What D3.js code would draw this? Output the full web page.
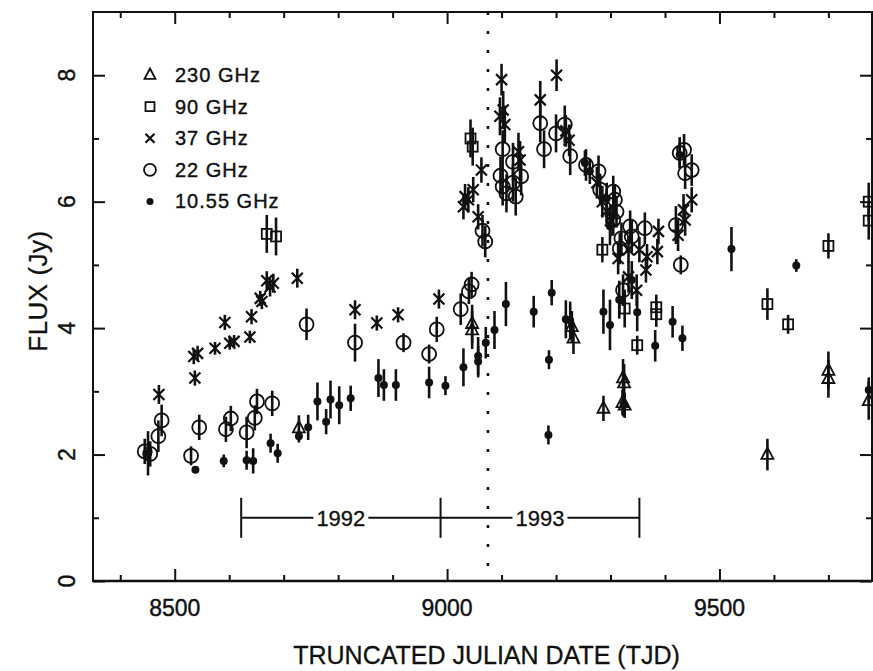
<!DOCTYPE html>
<html><head><meta charset="utf-8">
<script src="https://cdn.jsdelivr.net/npm/d3@7"></script>
<style>body{margin:0;background:#fff}svg{display:block}</style>
</head><body><svg id="c" width="873" height="671"></svg>
<script>
// ---- data ----
const tjd230  = [8728, 9046, 9046, 9229, 9232, 9287, 9323, 9325, 9322, 9326, 9588, 9700, 9700, 9774];
const flux230 = [2.42, 4.07, 3.97, 4.02, 3.84, 2.73, 3.21, 3.13, 2.82, 2.78, 2.00, 3.33, 3.20, 2.85];
const err230  = [0.20, 0.30, 0.30, 0.25, 0.25, 0.20, 0.30, 0.30, 0.20, 0.20, 0.25, 0.30, 0.30, 0.30];

const tjd90  = [8669, 8686, 9043, 9047, 9285, 9326, 9349, 9384, 9384, 9588, 9626, 9700, 9774, 9774];
const flux90 = [5.49, 5.45, 7.00, 6.87, 5.24, 4.31, 3.73, 4.33, 4.22, 4.38, 4.06, 5.30, 6.00, 5.70];
const err90  = [0.30, 0.30, 0.30, 0.30, 0.20, 0.30, 0.15, 0.20, 0.20, 0.25, 0.15, 0.20, 0.30, 0.30];

const tjd37  = [8471, 8535, 8542, 8537, 8574, 8592, 8601, 8609, 8638, 8641, 8657, 8660, 8669, 8675, 8681, 8725,
                8831, 8871, 8910, 8985, 9030, 9033, 9039, 9048, 9057, 9063, 9097, 9100, 9103, 9106, 9131, 9134,
                9171, 9201, 9218, 9224, 9275, 9285, 9293, 9300, 9314, 9333, 9333, 9348, 9353, 9365, 9367, 9386,
                9388, 9424, 9434, 9437, 9449];
const flux37 = [2.95, 3.55, 3.60, 3.21, 3.68, 4.09, 3.76, 3.79, 3.86, 4.18, 4.47, 4.42, 4.75, 4.65, 4.71, 4.79,
                4.29, 4.08, 4.21, 4.46, 5.92, 6.08, 6.03, 6.19, 5.76, 6.50, 7.35, 7.93, 7.45, 7.22, 6.79, 6.66,
                7.61, 8.00, 7.12, 6.97, 6.30, 6.00, 5.85, 5.70, 5.10, 5.24, 4.81, 4.60, 5.24, 4.92, 5.13, 5.21,
                5.53, 5.47, 5.87, 5.71, 6.03];
const err37  = [0.15, 0.12, 0.12, 0.12, 0.10, 0.12, 0.10, 0.10, 0.10, 0.12, 0.12, 0.12, 0.15, 0.15, 0.15, 0.15,
                0.15, 0.12, 0.12, 0.15, 0.20, 0.20, 0.20, 0.20, 0.20, 0.20, 0.30, 0.25, 0.30, 0.30, 0.30, 0.30,
                0.30, 0.25, 0.25, 0.25, 0.25, 0.25, 0.25, 0.25, 0.25, 0.20, 0.25, 0.25, 0.20, 0.20, 0.20, 0.20,
                0.20, 0.25, 0.25, 0.25, 0.20];

const tjd22  = [8445, 8455, 8470, 8476, 8530, 8545, 8594, 8603, 8632, 8647, 8651, 8679, 8742, 8831, 8920, 8967,
                8981, 9025, 9040, 9045, 9065, 9070, 9098, 9102, 9102, 9109, 9121, 9121, 9126, 9136, 9171, 9178,
                9200, 9216, 9226, 9255, 9278, 9281, 9305, 9308, 9311, 9305, 9317, 9320, 9323, 9336, 9339, 9363,
                9420, 9427, 9435, 9437, 9449, 9429];
const flux22 = [2.05, 2.01, 2.29, 2.54, 1.98, 2.43, 2.40, 2.57, 2.35, 2.58, 2.84, 2.81, 4.06, 3.77, 3.77, 3.59,
                3.98, 4.30, 4.58, 4.69, 5.54, 5.37, 6.41, 6.83, 6.24, 6.13, 6.63, 6.30, 6.08, 6.40, 7.24, 6.83,
                7.08, 7.22, 6.72, 6.58, 6.48, 6.19, 6.16, 6.03, 5.84, 5.71, 5.26, 5.42, 4.60, 5.61, 5.45, 5.58,
                5.63, 6.77, 6.82, 6.45, 6.50, 5.00];
const err22  = [0.20, 0.20, 0.25, 0.25, 0.15, 0.20, 0.20, 0.20, 0.25, 0.20, 0.20, 0.20, 0.25, 0.30, 0.15, 0.15,
                0.20, 0.25, 0.20, 0.20, 0.25, 0.25, 0.30, 0.30, 0.30, 0.30, 0.30, 0.30, 0.30, 0.30, 0.30, 0.30,
                0.30, 0.30, 0.30, 0.25, 0.25, 0.25, 0.25, 0.25, 0.25, 0.25, 0.25, 0.25, 0.25, 0.25, 0.25, 0.25,
                0.30, 0.25, 0.25, 0.25, 0.25, 0.15];

const tjd10  = [8451, 8538, 8590, 8632, 8644, 8676, 8689, 8728, 8745, 8762, 8778, 8786, 8802, 8823, 8874, 8884,
                8906, 8967, 8997, 9030, 9057, 9057, 9071, 9087, 9108, 9159, 9187, 9186, 9192, 9218, 9226, 9287,
                9299, 9316, 9349, 9382, 9414, 9432, 9522, 9641, 9774, 9253, 9262, 9293, 9299, 9427, 9339, 9324];
const flux10 = [2.02, 1.76, 1.90, 1.91, 1.90, 2.18, 2.02, 2.29, 2.43, 2.84, 2.52, 2.87, 2.78, 2.89, 3.21, 3.10,
                3.10, 3.14, 3.09, 3.38, 3.56, 3.47, 3.77, 3.97, 4.38, 4.26, 3.50, 2.31, 4.56, 4.14, 4.12, 4.26,
                4.05, 4.45, 4.25, 3.72, 4.10, 3.84, 5.25, 4.99, 3.02, 6.61, 6.48, 6.05, 5.61, 6.74, 4.76, 2.80];
const err10  = [0.35, 0.00, 0.10, 0.15, 0.20, 0.15, 0.15, 0.10, 0.20, 0.30, 0.20, 0.30, 0.30, 0.20, 0.30, 0.25,
                0.25, 0.25, 0.15, 0.30, 0.30, 0.25, 0.25, 0.30, 0.35, 0.25, 0.15, 0.15, 0.20, 0.30, 0.30, 0.35,
                0.40, 0.30, 0.30, 0.25, 0.25, 0.20, 0.35, 0.10, 0.20, 0.20, 0.20, 0.25, 0.30, 0.20, 0.30, 0.20];

const legendLabels = ["230 GHz", "90 GHz", "37 GHz", "22 GHz", "10.55 GHz"];
const xMajorTicks = [8500, 9000, 9500];
const xMinorTicks = [8400, 8600, 8700, 8800, 8900, 9100, 9200, 9300, 9400, 9600, 9700];
const yMajorTicks = [0, 2, 4, 6, 8];
const yMinorTicks = [1, 3, 5, 7];
const yearEdges = [8622, 8988, 9353];
const yearLabels = ["1992", "1993"];
const yearLevel = 1;
const markerTJD = 9075;

// ---- layout ----
const W = 873, H = 671;
const L = 93, R = 872, T = 12, B = 581;
const svg = d3.select("#c");
svg.append("rect").attr("width", W).attr("height", H).attr("fill", "#fff");
const x = d3.scaleLinear().domain([8350, 9780]).range([L, R]);
const y = d3.scaleLinear().domain([0, 9]).range([B, T]);
const ink = "#111";
const font = "'Liberation Sans', Arial, Helvetica, sans-serif";

// axes (ticks inside)
function styleAxis(g) {
  g.select(".domain").remove();
  g.selectAll("line").attr("stroke", ink).attr("stroke-width", 2);
  g.selectAll("text").remove();
}
svg.append("g").attr("transform", `translate(0,${B})`).call(d3.axisBottom(x).tickValues(xMajorTicks).tickSize(-12)).call(styleAxis);
svg.append("g").attr("transform", `translate(0,${B})`).call(d3.axisBottom(x).tickValues(xMinorTicks).tickSize(-6)).call(styleAxis);
svg.append("g").attr("transform", `translate(0,${T})`).call(d3.axisTop(x).tickValues(xMajorTicks).tickSize(-12)).call(styleAxis);
svg.append("g").attr("transform", `translate(0,${T})`).call(d3.axisTop(x).tickValues(xMinorTicks).tickSize(-6)).call(styleAxis);
svg.append("g").attr("transform", `translate(${L},0)`).call(d3.axisLeft(y).tickValues(yMajorTicks).tickSize(-12)).call(styleAxis);
svg.append("g").attr("transform", `translate(${L},0)`).call(d3.axisLeft(y).tickValues(yMinorTicks).tickSize(-6)).call(styleAxis);
svg.append("g").attr("transform", `translate(${R},0)`).call(d3.axisRight(y).tickValues(yMajorTicks).tickSize(-12)).call(styleAxis);
svg.append("g").attr("transform", `translate(${R},0)`).call(d3.axisRight(y).tickValues(yMinorTicks).tickSize(-6)).call(styleAxis);

// frame
svg.append("path").attr("d", `M${L},${T}H${R}V${B}H${L}Z`).attr("fill", "none").attr("stroke", ink).attr("stroke-width", 2);
svg.append("line").attr("x1", L).attr("x2", R).attr("y1", B).attr("y2", B).attr("stroke", ink).attr("stroke-width", 2.6);

// tick labels
svg.append("g").selectAll("text").data(xMajorTicks).join("text")
  .attr("x", d => x(d)).attr("y", 616).attr("text-anchor", "middle")
  .attr("font-family", font).attr("font-size", 23).attr("fill", ink)
  .attr("stroke", ink).attr("stroke-width", 0.4).text(d => d);
svg.append("g").selectAll("text").data(yMajorTicks).join("text")
  .attr("transform", d => `translate(75,${y(d)}) rotate(-90)`).attr("text-anchor", "middle")
  .attr("font-family", font).attr("font-size", 23).attr("fill", ink)
  .attr("stroke", ink).attr("stroke-width", 0.4).text(d => d);

// axis titles
svg.append("text").attr("x", (L + R) / 2 + 4).attr("y", 664).attr("text-anchor", "middle")
  .attr("font-family", font).attr("font-size", 25).attr("fill", ink)
  .attr("stroke", ink).attr("stroke-width", 0.3).text("TRUNCATED JULIAN DATE (TJD)");
svg.append("text").attr("transform", `translate(47,${291}) rotate(-90)`).attr("text-anchor", "middle")
  .attr("font-family", font).attr("font-size", 26).attr("letter-spacing", 0.5).attr("fill", ink)
  .attr("stroke", ink).attr("stroke-width", 0.3).text("FLUX (Jy)");

// dotted marker line
svg.append("line").attr("x1", x(markerTJD)).attr("x2", x(markerTJD)).attr("y1", T).attr("y2", B)
  .attr("stroke", ink).attr("stroke-width", 2.6).attr("stroke-dasharray", "3,16");

// year bar
const yb = svg.append("g");
yb.append("line").attr("x1", x(yearEdges[0])).attr("x2", x(yearEdges[2])).attr("y1", y(yearLevel)).attr("y2", y(yearLevel))
  .attr("stroke", ink).attr("stroke-width", 2);
yb.selectAll(".edge").data(yearEdges).join("line").attr("class", "edge")
  .attr("x1", d => x(d)).attr("x2", d => x(d)).attr("y1", y(yearLevel) - 20).attr("y2", y(yearLevel) + 20)
  .attr("stroke", ink).attr("stroke-width", 2);
yearLabels.forEach((lab, i) => {
  const cx = x((yearEdges[i] + yearEdges[i + 1]) / 2);
  const t = yb.append("text").attr("x", cx).attr("y", y(yearLevel) + 8).attr("text-anchor", "middle")
    .attr("font-family", font).attr("font-size", 22).attr("fill", ink)
    .attr("stroke", ink).attr("stroke-width", 0.3).text(lab);
  const bb = t.node().getBBox();
  yb.insert("rect", "text").attr("x", bb.x - 3).attr("y", bb.y + 2).attr("width", bb.width + 6).attr("height", bb.height - 4).attr("fill", "#fff");
});

// symbols
function drawSym(g, type, cx, cy, s) {
  if (type === "tri") {
    const h = s * 0.95;
    g.append("path").attr("d", `M${cx},${cy - h * 0.62}L${cx + s / 2},${cy + h * 0.38}L${cx - s / 2},${cy + h * 0.38}Z`)
      .attr("fill", "none").attr("stroke", ink).attr("stroke-width", 1.8);
  } else if (type === "sq") {
    g.append("rect").attr("x", cx - s / 2).attr("y", cy - s / 2).attr("width", s).attr("height", s)
      .attr("fill", "none").attr("stroke", ink).attr("stroke-width", 1.8);
  } else if (type === "x") {
    const a = s / 2;
    g.append("path").attr("d", `M${cx - a},${cy - a}L${cx + a},${cy + a}M${cx - a},${cy + a}L${cx + a},${cy - a}`)
      .attr("stroke", ink).attr("stroke-width", 2.2);
  } else if (type === "circ") {
    g.append("circle").attr("cx", cx).attr("cy", cy).attr("r", s / 2)
      .attr("fill", "none").attr("stroke", ink).attr("stroke-width", 1.8);
  } else if (type === "dot") {
    g.append("circle").attr("cx", cx).attr("cy", cy).attr("r", s / 2).attr("fill", ink);
  }
}

const series = [
  {t: tjd230, f: flux230, e: err230, type: "tri", size: 12},
  {t: tjd90, f: flux90, e: err90, type: "sq", size: 10},
  {t: tjd37, f: flux37, e: err37, type: "x", size: 11},
  {t: tjd22, f: flux22, e: err22, type: "circ", size: 14},
  {t: tjd10, f: flux10, e: err10, type: "dot", size: 8}
];

const dataG = svg.append("g");
series.forEach(s => {
  s.t.forEach((d, i) => {
    if (s.e[i] > 0) {
      dataG.append("line").attr("x1", x(d)).attr("x2", x(d))
        .attr("y1", y(s.f[i] - s.e[i])).attr("y2", y(s.f[i] + s.e[i]))
        .attr("stroke", ink).attr("stroke-width", 2.6);
    }
  });
});
series.forEach(s => {
  s.t.forEach((d, i) => drawSym(dataG, s.type, x(d), y(s.f[i]), s.size));
});

// legend
const legG = svg.append("g");
const legSizes = [11, 9, 9, 12, 7];
const legTypes = ["tri", "sq", "x", "circ", "dot"];
legendLabels.forEach((lab, i) => {
  const ly = 75 + i * 31.6;
  drawSym(legG, legTypes[i], 150, ly, legSizes[i]);
  legG.append("text").attr("x", 175).attr("y", ly + 7).attr("font-family", font).attr("font-size", 20)
    .attr("letter-spacing", 1).attr("fill", ink).attr("stroke", ink).attr("stroke-width", 0.4).text(lab);
});
</script></body></html>
